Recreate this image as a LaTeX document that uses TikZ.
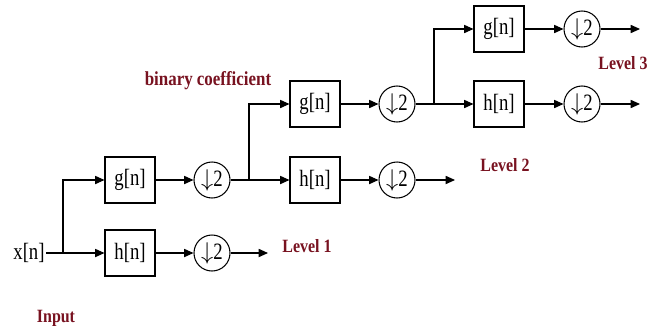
\documentclass[tikz,border=0pt]{standalone}
\usepackage{fontspec}
\setmainfont{Liberation Serif}
\newfontfamily\narrowfont[FakeStretch=0.8]{Liberation Serif}
\newfontfamily\narrowbold[FakeStretch=0.85]{Liberation Serif Bold}
\usetikzlibrary{arrows.meta}
\definecolor{lvlred}{RGB}{120,18,32}

\begin{document}
\begin{tikzpicture}[x=0.03cm,y=-0.03cm,line width=0.9pt,
	filt/.style={draw,minimum width=1.5cm,minimum height=1.38cm,inner sep=0pt,font=\narrowfont\fontsize{20}{22}\selectfont},
	down/.style={draw,circle,minimum size=1.08cm,inner sep=0pt,font=\narrowfont\fontsize{20}{22}\selectfont},
	lbl/.style={text=lvlred,font=\narrowbold\fontsize{16}{18}\selectfont},
	>={Triangle[length=8pt,width=7pt]}]
	\useasboundingbox (0,0) rectangle (652,329);
	\node[font=\narrowfont\fontsize{20}{22}\selectfont,inner sep=1pt] (x) at (29,253) {x[n]};
	\node[filt] (g1) at (130,180) {g[n]};
	\node[filt] (h1) at (130,253) {h[n]};
	\node[down] (d1g) at (212,180) {$\downarrow$2};
	\node[down] (d1h) at (212,253) {$\downarrow$2};
	\node[filt] (g2) at (315,104) {g[n]};
	\node[filt] (h2) at (315,180) {h[n]};
	\node[down] (d2g) at (397,104) {$\downarrow$2};
	\node[down] (d2h) at (397,180) {$\downarrow$2};
	\node[filt] (g3) at (499,29) {g[n]};
	\node[filt] (h3) at (499,104) {h[n]};
	\node[down] (d3g) at (582,29) {$\downarrow$2};
	\node[down] (d3h) at (582,104) {$\downarrow$2};
	\coordinate (b1) at (63,253);
	\coordinate (b2) at (249,180);
	\coordinate (b3) at (434,104);
	\coordinate (e1) at (268,253);
	\coordinate (e2) at (455,180);
	\coordinate (e3g) at (640,29);
	\coordinate (e3h) at (640,104);
	\draw (x) -- (b1);
	\draw[->] (b1) |- (g1);
	\draw[->] (b1) -- (h1);
	\draw[->] (g1) -- (d1g);
	\draw[->] (h1) -- (d1h);
	\draw[->] (d1h) -- (e1);
	\draw (d1g) -- (b2);
	\draw[->] (b2) |- (g2);
	\draw[->] (b2) -- (h2);
	\draw[->] (g2) -- (d2g);
	\draw[->] (h2) -- (d2h);
	\draw[->] (d2h) -- (e2);
	\draw (d2g) -- (b3);
	\draw[->] (b3) |- (g3);
	\draw[->] (b3) -- (h3);
	\draw[->] (g3) -- (d3g);
	\draw[->] (h3) -- (d3h);
	\draw[->] (d3g) -- (e3g);
	\draw[->] (d3h) -- (e3h);
	\node[lbl,anchor=west] (l1) at (278,246) {Level 1};
	\node[lbl,anchor=west] (l2) at (476,165) {Level 2};
	\node[lbl,anchor=east] (l3) at (652,63) {Level 3};
	\node[lbl,font=\narrowbold\fontsize{17}{19}\selectfont] (bc) at (208,81) {binary coefficient};
	\node[lbl] (in) at (56,318) {Input};
\end{tikzpicture}
\end{document}
